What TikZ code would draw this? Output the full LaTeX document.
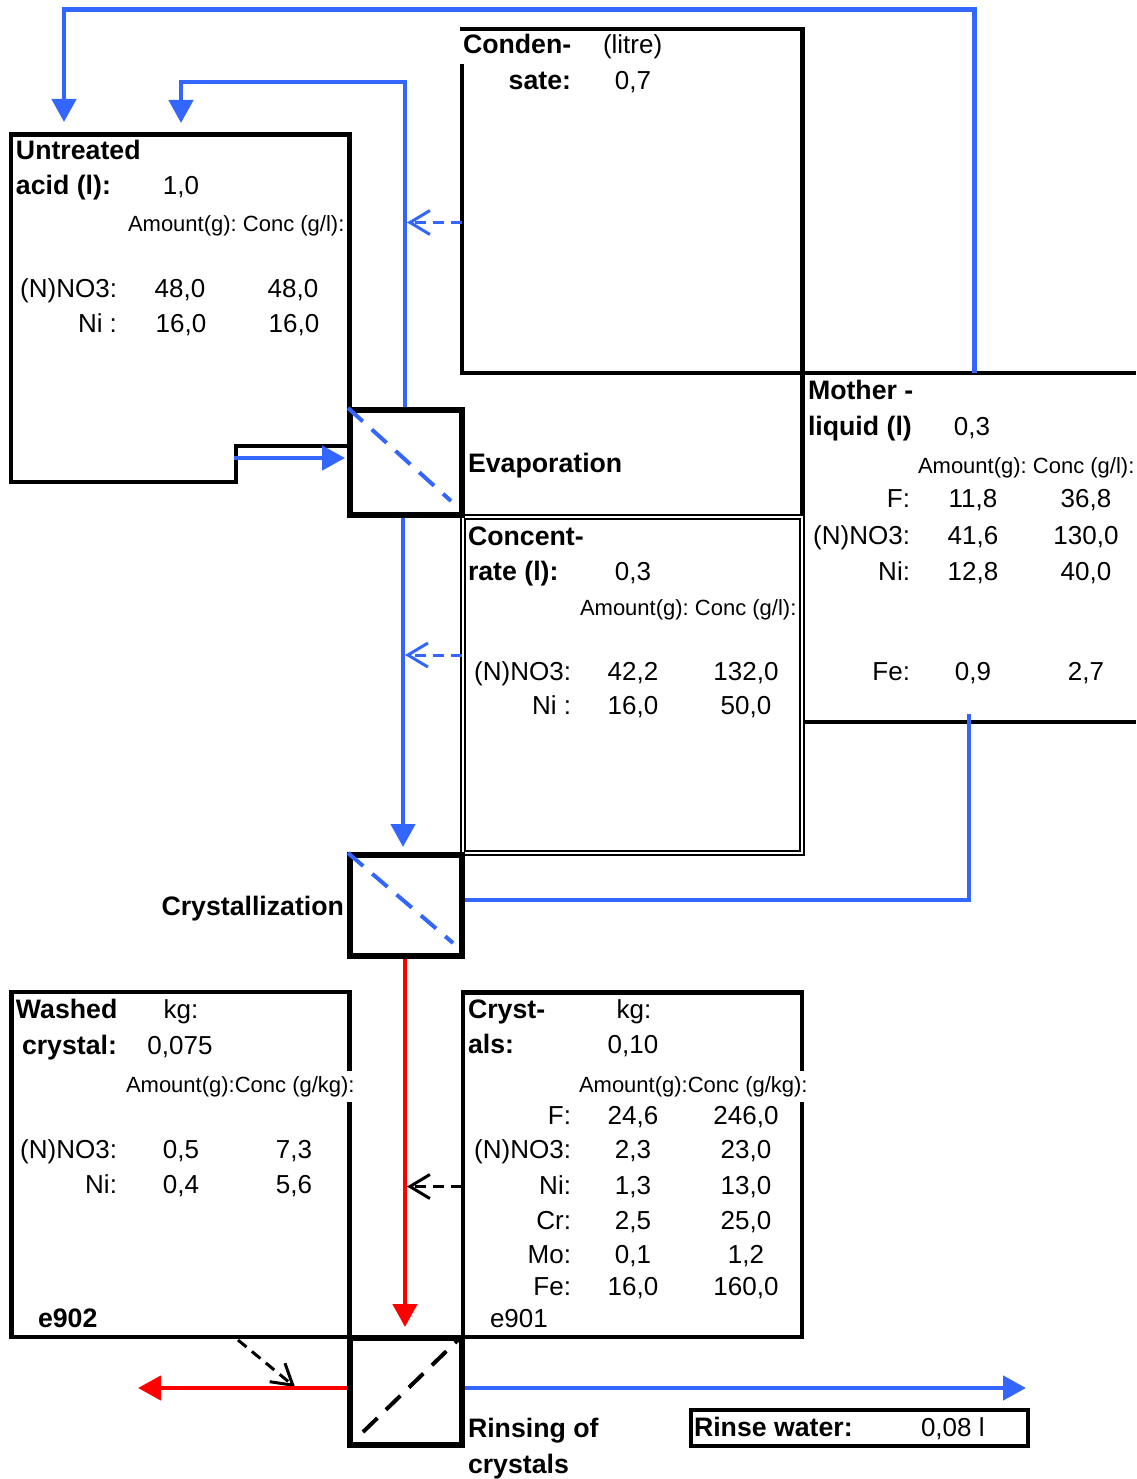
\documentclass[tikz,border=0pt]{standalone}
\usepackage{fontspec}
\setmainfont{Liberation Sans}
\usetikzlibrary{arrows.meta}
\definecolor{flowblue}{RGB}{51,102,255}
\definecolor{flowred}{RGB}{255,0,0}
\newcommand\drow[8]{%
  \node[tn,atR] (#1l) at (#2,#5) {#6};
  \node[tn,atC] (#1a) at (#3,#5) {#7};
  \node[tn,atC] (#1c) at (#4,#5) {#8};}
\frenchspacing
\begin{document}
\frenchspacing
\begin{tikzpicture}[x=1pt,y=-1pt,
  every node/.style={inner sep=0pt, outer sep=0pt},
  tn/.style={font=\fontsize{26}{30}\selectfont\frenchspacing},
  tb/.style={font=\fontsize{26.7}{31}\selectfont\bfseries\frenchspacing},
  ts/.style={font=\fontsize{22}{26}\selectfont\frenchspacing},
  atL/.style={anchor=base west}, atR/.style={anchor=base east}, atC/.style={anchor=base},
  databox/.style={draw=black, line width=4.5pt},
  procbox/.style={rectangle, minimum width=112pt},
  procline/.style={draw=black, line width=6.5pt},
  bflow/.style={draw=flowblue, line width=4.5pt},
  rflow/.style={draw=flowred, line width=4.5pt},
  btip/.style={-{Triangle[length=23pt,width=24pt]}},
  opentip/.style={-{Straight Barb[length=20pt,width=24pt]}},
  bdash/.style={draw=flowblue, line width=3pt, dash pattern=on 11pt off 7pt},
  kdash/.style={draw=black, line width=3pt, dash pattern=on 11pt off 7pt},
  diag/.style={line width=4pt, dash pattern=on 20pt off 12pt},
]
\useasboundingbox (0,0) rectangle (1136,1479);

% ---------- process boxes (positions only; outlines drawn later) ----------
\node[procbox, minimum height=105pt] (evap)  at (406,462.5) {};
\node[procbox, minimum height=101pt] (cryst) at (406,905.5) {};
\node[procbox, minimum height=107pt] (rinse) at (406,1391.5) {};

% ---------- coordinates for free ends ----------
\coordinate (acidIn1)  at (64,122);
\coordinate (acidIn2)  at (181,123);
\coordinate (topBend)  at (974.5,9.5);
\coordinate (motherTop) at (974.5,373);
\coordinate (condBend) at (181,82);
\coordinate (acidOut)  at (234,458);
\coordinate (condOut)  at (462,222.5);
\coordinate (condTip)  at (407,222.5);
\coordinate (concOut)  at (462,655);
\coordinate (concTip)  at (405,655);
\coordinate (mlBend)   at (969,900);
\coordinate (mlEnd)    at (969,714);
\coordinate (crysOut)  at (462,1186.5);
\coordinate (crysTip)  at (407,1186.5);
\coordinate (wOut)     at (238,1340);
\coordinate (wTip)     at (295,1387);
\coordinate (redTip)   at (138,1388);
\coordinate (rinseTip) at (1026,1388);

% ---------- data boxes ----------
% untreated acid
\draw[databox] (11,134.5) -- (349.5,134.5) -- (349.5,446) -- (236,446)
  -- (236,482) -- (11,482) -- cycle;
% condensate + mother liquid
\draw[databox] (462,64) -- (462,373) -- (1136,373);
\draw[databox] (460,29) -- (802.5,29) -- (802.5,517);
\draw[databox] (805,722) -- (1136,722);
% concentrate (double border)
\draw[line width=2pt, double=white, double distance=2pt] (463.3,517) rectangle (802.3,853.3);
% washed crystal, crystals
\draw[databox] (11.3,992) rectangle (349.5,1337);
\draw[databox] (463,992.5) rectangle (802,1337);
% rinse water box
\node[draw=black, line width=4pt, minimum width=337pt, minimum height=36pt] (rwBox) at (859,1428) {};

% ---------- flows ----------
\draw[bflow, btip] (motherTop) -- (topBend) -| (acidIn1);
\draw[bflow, btip] ([xshift=-1pt]evap.north) |- (condBend) -- (acidIn2);
\draw[bflow, btip, shorten >=5pt] (acidOut) -- (evap.west |- acidOut);
\draw[bdash, opentip] (condOut) -- (condTip);
\draw[bflow, btip, shorten <=3pt, shorten >=8pt] ([xshift=-3pt]evap.south) -- ([xshift=-3pt]cryst.north);
\draw[bdash, opentip] (concOut) -- (concTip);
\draw[bflow] (cryst.east |- mlBend) -- (mlBend) -- (mlEnd);
\draw[rflow, btip, shorten <=3pt, shorten >=11pt] ([xshift=-1pt]cryst.south) -- ([xshift=-1pt]rinse.north);
\draw[kdash, opentip] (crysOut) -- (crysTip);
\draw[kdash, opentip] (wOut) -- (wTip);
\draw[rflow, btip] (rinse.west |- redTip) -- (redTip);
\draw[bflow, btip] (rinse.east |- rinseTip) -- (rinseTip);

% ---------- process box outlines and diagonals ----------
\draw[procline] (evap.north west) rectangle (evap.south east);
\draw[procline] (cryst.north west) rectangle (cryst.south east);
\draw[procline] (rinse.north west) rectangle (rinse.south east);
\draw[diag, flowblue] ([xshift=-2pt,yshift=2pt]evap.north west) -- ([xshift=-11pt,yshift=14pt]evap.south east);
\draw[diag, flowblue] ([xshift=-2pt,yshift=2pt]cryst.north west) -- ([xshift=-9pt,yshift=13pt]cryst.south east);
\draw[diag, black] ([xshift=13pt,yshift=13pt]rinse.south west) -- ([xshift=-2pt,yshift=0pt]rinse.north east);

% ---------- texts ----------
% untreated acid
\node[tb,atL] (uaT1) at (16,160) {Untreated};
\node[tb,atL] (uaT2) at (16,195) {acid (l):};
\node[tn,atC] (uaV) at (181,195) {1,0};
\node[ts,atL] (uaH) at (128,232) {Amount(g): Conc (g/l):};
\drow{ua1}{117}{180}{293}{297}{(N)NO3:}{48,0}{48,0}
\drow{ua2}{117}{181}{294}{332}{Ni :}{16,0}{16,0}

% condensate
\node[tb,atL] (cdT1) at (463,54) {Conden-};
\node[tn,atL] (cdU) at (603,54) {(litre)};
\node[tb,atR] (cdT2) at (571,90) {sate:};
\node[tn,atC] (cdV) at (633,90) {0,7};

\node[tb,atL] (evapL) at (468,472) {Evaporation};

% mother liquid
\node[tb,atL] (mlT1) at (808,399) {Mother -};
\node[tb,atL] (mlT2) at (808,435) {liquid (l)};
\node[tn,atC] (mlV) at (972,435) {0,3};
\node[ts,atL] (mlH) at (918,473) {Amount(g): Conc (g/l):};
\drow{ml1}{910}{973}{1086}{507}{F:}{11,8}{36,8}
\drow{ml2}{910}{973}{1086}{544}{(N)NO3:}{41,6}{130,0}
\drow{ml3}{910}{973}{1086}{580}{Ni:}{12,8}{40,0}
\drow{ml4}{910}{973}{1086}{680}{Fe:}{0,9}{2,7}

% concentrate
\node[tb,atL] (ccT1) at (468,545) {Concent-};
\node[tb,atL] (ccT2) at (468,580) {rate (l):};
\node[tn,atC] (ccV) at (633,580) {0,3};
\node[ts,atL] (ccH) at (580,615) {Amount(g): Conc (g/l):};
\drow{cc1}{571}{633}{746}{680}{(N)NO3:}{42,2}{132,0}
\drow{cc2}{571}{633}{746}{714}{Ni :}{16,0}{50,0}

\node[tb,atR] (crL) at (344,915) {Crystallization};

% washed crystal
\node[tb,atL] (wcT1) at (16,1018) {Washed};
\node[tn,atC] (wcU) at (181,1018) {kg:};
\node[tb,atR] (wcT2) at (117,1054) {crystal:};
\node[tn,atC] (wcV) at (180,1054) {0,075};
\node[ts,atL,fill=white,inner ysep=5pt] (wcH) at (126,1092) {Amount(g):Conc (g/kg):};
\drow{wc1}{117}{181}{294}{1158}{(N)NO3:}{0,5}{7,3}
\drow{wc2}{117}{181}{294}{1193}{Ni:}{0,4}{5,6}
\node[tb,atL] (wcE) at (38,1327) {e902};

% crystals
\node[tb,atL] (csT1) at (468,1018) {Cryst-};
\node[tn,atC] (csU) at (634,1018) {kg:};
\node[tb,atL] (csT2) at (468,1053) {als:};
\node[tn,atC] (csV) at (633,1053) {0,10};
\node[ts,atL,fill=white,inner ysep=5pt] (csH) at (579,1092) {Amount(g):Conc (g/kg):};
\drow{cs1}{571}{633}{746}{1124}{F:}{24,6}{246,0}
\drow{cs2}{571}{633}{746}{1158}{(N)NO3:}{2,3}{23,0}
\drow{cs3}{571}{633}{746}{1194}{Ni:}{1,3}{13,0}
\drow{cs4}{571}{633}{746}{1229}{Cr:}{2,5}{25,0}
\drow{cs5}{571}{633}{746}{1263}{Mo:}{0,1}{1,2}
\drow{cs6}{571}{633}{746}{1295}{Fe:}{16,0}{160,0}
\node[tn,atL] (csE) at (490,1327) {e901};

% rinsing
\node[tb,atL] (rsL1) at (468,1437) {Rinsing of};
\node[tb,atL] (rsL2) at (468,1473) {crystals};
\node[tb,atL] (rwL) at (694,1436) {Rinse water:};
\node[tn,atL] (rwV) at (921,1436) {0,08 l};
\end{tikzpicture}
\end{document}
